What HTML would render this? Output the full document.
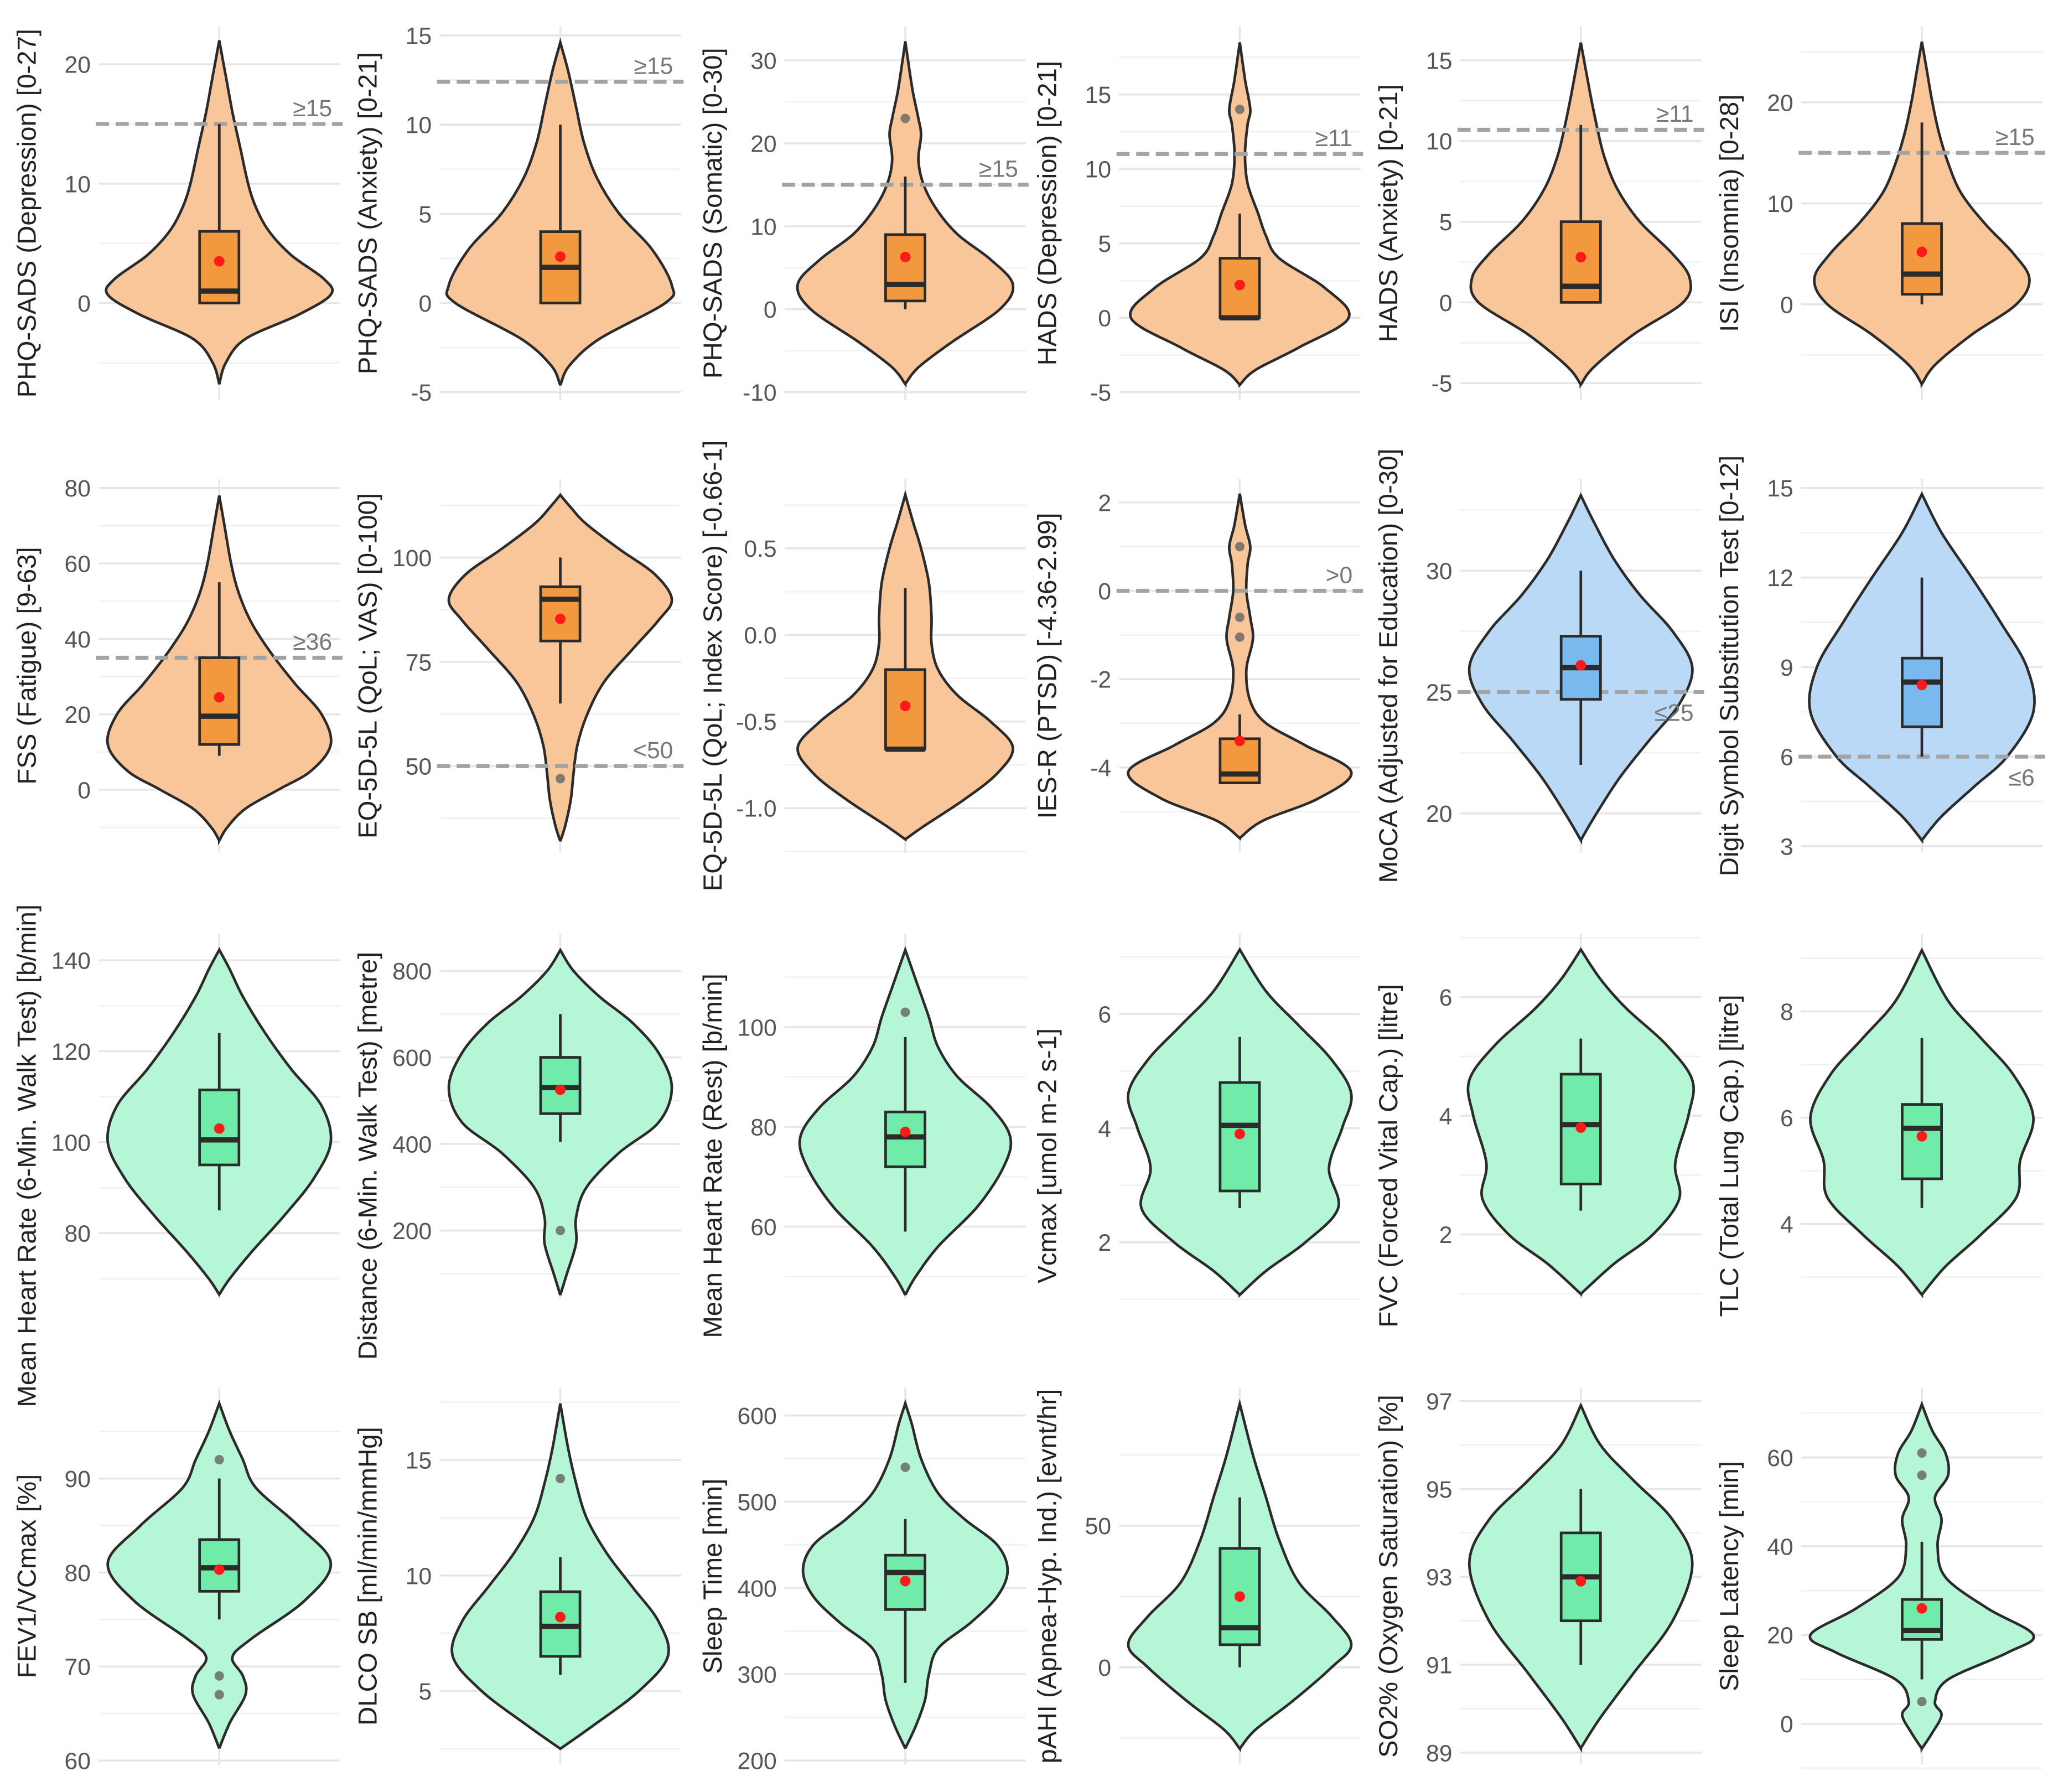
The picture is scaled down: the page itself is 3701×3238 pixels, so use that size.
<!DOCTYPE html>
<html><head><meta charset="utf-8">
<style>
html,body{margin:0;padding:0;background:#fff;}
svg{display:block;}
text{font-family:"Liberation Sans",sans-serif;}
</style></head>
<body>
<svg id="chart" width="3701" height="3238" viewBox="0 0 1561 1366" xmlns="http://www.w3.org/2000/svg"></svg>
<script>
// ---- data ----
const titles = [
"PHQ-SADS (Depression) [0-27]","PHQ-SADS (Anxiety) [0-21]","PHQ-SADS (Somatic) [0-30]","HADS (Depression) [0-21]","HADS (Anxiety) [0-21]","ISI (Insomnia) [0-28]",
"FSS (Fatigue) [9-63]","EQ-5D-5L (QoL; VAS) [0-100]","EQ-5D-5L (QoL; Index Score) [-0.66-1]","IES-R (PTSD) [-4.36-2.99]","MoCA (Adjusted for Education) [0-30]","Digit Symbol Substitution Test [0-12]",
"Mean Heart Rate (6-Min. Walk Test) [b/min]","Distance (6-Min. Walk Test) [metre]","Mean Heart Rate (Rest) [b/min]","Vcmax [umol m-2 s-1]","FVC (Forced Vital Cap.) [litre]","TLC (Total Lung Cap.) [litre]",
"FEV1/VCmax [%]","DLCO SB [ml/min/mmHg]","Sleep Time [min]","pAHI (Apnea-Hyp. Ind.) [evnt/hr]","SO2% (Oxygen Saturation) [%]","Sleep Latency [min]"];
const tickValues = [
[0,10,20],[-5,0,5,10,15],[-10,0,10,20,30],[-5,0,5,10,15],[-5,0,5,10,15],[0,10,20],
[0,20,40,60,80],[50,75,100],[-1.0,-0.5,0.0,0.5],[-4,-2,0,2],[20,25,30],[3,6,9,12,15],
[80,100,120,140],[200,400,600,800],[60,80,100],[2,4,6],[2,4,6],[4,6,8],
[60,70,80,90],[5,10,15],[200,300,400,500,600],[0,50],[89,91,93,95,97],[0,20,40,60]];
const tickLabels = [
["0","10","20"],["-5","0","5","10","15"],["-10","0","10","20","30"],["-5","0","5","10","15"],["-5","0","5","10","15"],["0","10","20"],
["0","20","40","60","80"],["50","75","100"],["-1.0","-0.5","0.0","0.5"],["-4","-2","0","2"],["20","25","30"],["3","6","9","12","15"],
["80","100","120","140"],["200","400","600","800"],["60","80","100"],["2","4","6"],["2","4","6"],["4","6","8"],
["60","70","80","90"],["5","10","15"],["200","300","400","500","600"],["0","50"],["89","91","93","95","97"],["0","20","40","60"]];
// density samples: [value, relative width 0..85]
const densities = [
[[-6.8,0],[-5,5],[-3,20],[-1,60],[0.7,85],[2,80],[4,55],[6,38],[8,28],[10,22],[13,16],[16,10],[19,5],[22,0]],
[[-4.6,0],[-3.5,7],[-2,30],[0,80],[1,85],[3,70],[5,45],[7,28],[9,18],[11,12],[13,6],[14.6,0]],
[[-9,0],[-7,10],[-4,35],[0,72],[3,82],[6,65],[9,40],[12,24],[15,14],[18,10],[21,12],[23,10],[26,6],[29,3],[32.3,0]],
[[-4.5,0],[-3.5,12],[-2,45],[0,83],[2,65],[4,30],[5.5,20],[7,14],[9,6],[11,4],[13,6],[14,8],[16,4],[18.5,0]],
[[-5.1,0],[-4,10],[-2,40],[0,78],[1.5,83],[3,70],[5,45],[7,28],[9,18],[11,12],[13,7],[16.1,0]],
[[-7.9,0],[-6,10],[-3,38],[0,72],[2.5,82],[5,70],[8,48],[11,30],[14,20],[17,13],[20,8],[23,4],[26,0]],
[[-13.5,0],[-10,6],[-5,20],[0,45],[5,70],[12,85],[20,78],[28,58],[36,40],[44,25],[52,15],[60,9],[70,4],[78,0]],
[[32,0],[36,4],[42,8],[48,10],[55,13],[62,20],[70,33],[78,55],[85,75],[90,85],[96,72],[102,45],[108,20],[112,8],[115,0]],
[[-1.18,0],[-1.1,15],[-0.95,45],[-0.8,70],[-0.65,82],[-0.5,65],[-0.35,40],[-0.2,25],[-0.05,20],[0.1,20],[0.3,18],[0.5,12],[0.65,6],[0.81,0]],
[[-5.6,0],[-5.2,18],[-4.7,60],[-4.1,85],[-3.5,50],[-3,20],[-2.5,8],[-1.8,5],[-1.1,10],[-0.6,8],[0,5],[0.6,6],[1,8],[1.5,4],[2.2,0]],
[[18.9,0],[20,12],[21.5,30],[23,52],[24.5,75],[26,85],[27.5,70],[29,45],[30.5,25],[32,10],[33.1,0]],
[[3.2,0],[4,15],[5,40],[6,65],[7.5,85],[9,80],[10.5,60],[12,38],[13.5,15],[14.8,0]],
[[66.5,0],[70,8],[76,25],[84,50],[92,72],[100,85],[108,78],[116,55],[124,35],[132,18],[138,8],[142.3,0]],
[[51,0],[100,5],[170,12],[230,12],[300,20],[380,45],[450,75],[530,85],[610,75],[680,55],[740,30],[800,10],[848,0]],
[[46.3,0],[50,8],[56,25],[64,55],[72,75],[78,80],[84,65],[90,40],[96,25],[102,18],[108,10],[115.5,0]],
[[1.08,0],[1.5,20],[2,50],[2.6,75],[3.3,68],[4,78],[4.6,85],[5.2,70],[5.8,45],[6.4,20],[7.13,0]],
[[1,0],[1.5,25],[2,55],[2.6,75],[3.2,72],[4,82],[4.6,85],[5.2,65],[5.8,35],[6.3,15],[6.8,0]],
[[2.67,0],[3.2,18],[3.8,45],[4.5,72],[5.2,75],[6,85],[6.8,70],[7.5,45],[8.2,20],[9.15,0]],
[[61.3,0],[64,8],[67,20],[69,18],[71,10],[73,25],[77,65],[81,85],[85,60],[89,28],[92,18],[95,8],[98,0]],
[[2.5,0],[3.5,25],[5,60],[6.5,82],[8,75],[9.5,55],[11,35],[12.5,20],[14,12],[15.5,6],[17.45,0]],
[[214,0],[240,8],[270,15],[300,18],[330,25],[360,50],[390,70],[420,78],[450,70],[480,45],[510,25],[550,12],[590,5],[614,0]],
[[-28.7,0],[-22,12],[-12,40],[0,70],[8,85],[18,70],[30,45],[45,30],[60,20],[75,10],[93,0]],
[[89.1,0],[89.8,15],[90.8,40],[92,70],[93.3,85],[94.3,70],[95.2,40],[96,15],[96.9,0]],
[[-5.6,0],[-2,8],[2,15],[5,10],[10,20],[16,65],[20,85],[26,50],[33,18],[40,12],[46,15],[51,10],[56,20],[61,18],[66,8],[72,0]]];
// box stats: [whiskerLow, q1, median, q3, whiskerHigh, mean]
const boxStats = [
[0,0,1,6,15,3.5],[0,0,2,4,10,2.6],[0,1,3,9,16,6.3],[0,0,0,4,7,2.2],[0,0,1,5,11,2.8],[0,1,3,8,18,5.2],
[9,12,19.5,35,55,24.5],[65,80,90,93,100,85.3],[-0.66,-0.66,-0.66,-0.2,0.27,-0.41],[-4.36,-4.35,-4.15,-3.35,-2.8,-3.4],[22,24.7,26,27.3,30,26.1],[6,7,8.5,9.3,12,8.4],
[85,95,100.5,111.5,124,103],[405,470,530,600,700,525],[59,72,78,83,98,79],[2.6,2.9,4.05,4.8,5.6,3.9],[2.4,2.85,3.85,4.7,5.3,3.8],[4.3,4.85,5.8,6.25,7.5,5.65],
[75,78,80.5,83.5,90,80.3],[5.7,6.5,7.8,9.3,10.8,8.2],[290,375,418,438,480,408],[0,8,14,42,60,25],[91,92,93,94,95,92.9],[10,19,21,28,41,26]];
const outliers = [
[],[],[23],[14],[],[],
[],[47],[],[1,-0.6,-1.05],[],[],
[],[200],[103],[],[],[],
[92,69,67],[14.2],[540],[],[],[61,56,5]];
const thresholds = [15,12.4,15,11,10.7,15, 35,50,null,0,25,6, null,null,null,null,null,null, null,null,null,null,null,null];
const thresholdLabels = ["≥15","≥15","≥15","≥11","≥11","≥15","≥36","<50","",">0","≤25","≤6","","","","","","","","","","","",""];
// axis calibration: two reference ticks [value, pixelY]
const axisRef = [
[[0,231],[20,49]],[[0,231],[15,27]],[[-10,299],[30,46]],[[-5,299],[15,72]],[[-5,292],[15,46]],[[0,232],[20,78]],
[[0,602],[80,372]],[[50,584],[100,425]],[[-1,616],[0.5,418]],[[-4,585],[2,383]],[[20,620],[30,435]],[[3,645],[15,372]],
[[80,940],[140,732]],[[200,938],[800,740]],[[60,935],[100,783]],[[2,947],[6,773]],[[2,941],[6,760]],[[4,933],[8,771]],
[[60,1342],[90,1127]],[[5,1289],[15,1113]],[[200,1342],[600,1079]],[[0,1271],[50,1163]],[[89,1336],[97,1068]],[[0,1314],[60,1111]]];
const palettes = {
 orange:{v:"#f8c699",b:"#f2983e"}, blue:{v:"#b9d9f6",b:"#7ab9ee"}, green:{v:"#b5f6d6",b:"#70eba9"}};
const panelColor = ["orange","orange","orange","orange","orange","orange","orange","orange","orange","orange","blue","blue",
"green","green","green","green","green","green","green","green","green","green","green","green"];

// ---- drawing ----
const NS="http://www.w3.org/2000/svg";
const svg=document.getElementById('chart');
function el(tag,attrs,parent){const e=document.createElementNS(NS,tag);for(const k in attrs)e.setAttribute(k,attrs[k]);(parent||svg).appendChild(e);return e;}
const centers=[167,427,690,945,1205,1465];
const rowTop=[20,365,712,1058], rowBot=[305,650,990,1345];
const thrBelow=[10,11];

for(let i=0;i<24;i++){
  const r=Math.floor(i/6), c=i%6, cx=centers[c];
  const [a,b]=axisRef[i];
  const y=v=>a[1]+(v-a[0])*(b[1]-a[1])/(b[0]-a[0]);
  const g=el('g',{});
  
  
  const L=cx-92,R=cx+92;
  const tv=tickValues[i];
  const step=tv[1]-tv[0];
  for(let k=-1;k<tv.length;k++){
    const mv=tv[0]+(k+0.5)*step; const my=y(mv);
    if(my>rowTop[r]-4&&my<rowBot[r]+4){const gl=el('line',{x1:L,x2:R,y1:my,y2:my,stroke:'#f2f2f2','stroke-width':1.2},g);}
  }
  tv.forEach((v,k)=>{
    const ty=y(v);
    const gl=el('line',{x1:L,x2:R,y1:ty,y2:ty,stroke:'#e6e6e6','stroke-width':1.5},g);
    
    const t=el('text',{x:cx-98,y:ty+6.5,'text-anchor':'end','font-size':18,fill:'#555'},g);
    t.textContent=tickLabels[i][k];
    
  });
  const vg=el('line',{x1:cx,x2:cx,y1:rowTop[r],y2:rowBot[r],stroke:'#e6e6e6','stroke-width':1.5},g);
  
  const midY=(rowTop[r]+rowBot[r])/2+ (r==2?30:0);
  const tx=cx-140;
  const tt=el('text',{x:tx,y:midY,'text-anchor':'middle','font-size':20,fill:'#222',transform:`rotate(-90 ${tx} ${midY})`},g);
  tt.textContent=titles[i];
  
  const d=densities[i];
  const pts=d.map(p=>[cx+p[1],y(p[0])]);
  function cr(ps){let s='';for(let k=0;k<ps.length-1;k++){const p0=ps[Math.max(k-1,0)],p1=ps[k],p2=ps[k+1],p3=ps[Math.min(k+2,ps.length-1)];
    const c1=[p1[0]+(p2[0]-p0[0])/6,p1[1]+(p2[1]-p0[1])/6],c2=[p2[0]-(p3[0]-p1[0])/6,p2[1]-(p3[1]-p1[1])/6];
    s+=` C${c1[0].toFixed(1)},${c1[1].toFixed(1)} ${c2[0].toFixed(1)},${c2[1].toFixed(1)} ${p2[0].toFixed(1)},${p2[1].toFixed(1)}`;}return s;}
  const left=pts.map(p=>[2*cx-p[0],p[1]]).reverse();
  const path=`M${pts[0][0]},${pts[0][1]}`+cr(pts)+cr(left)+'Z';
  const pal=palettes[panelColor[i]];
  const vp=el('path',{d:path,fill:pal.v,stroke:'#2b2b2b','stroke-width':2},g);
  
  if(thresholds[i]!==null){
    const thy=y(thresholds[i]);
    const tl=el('line',{x1:L-2,x2:R+2,y1:thy,y2:thy,stroke:'#a3a3a3','stroke-width':3,'stroke-dasharray':'10,5'},g);
    
    const below=thrBelow.includes(i);
    const lt=el('text',{x:R-6,y:below?thy+22:thy-6,'text-anchor':'end','font-size':18,fill:'#777'},g);
    lt.textContent=thresholdLabels[i];
    
  }
  const s=boxStats[i];
  const wl=el('line',{x1:cx,x2:cx,y1:y(s[0]),y2:y(s[4]),stroke:'#2b2b2b','stroke-width':2},g);
  
  const bx=el('rect',{x:cx-15,width:30,y:y(s[3]),height:Math.max(1,y(s[1])-y(s[3])),fill:pal.b,stroke:'#2b2b2b','stroke-width':2},g);
  
  const md=el('line',{x1:cx-15,x2:cx+15,y1:y(s[2]),y2:y(s[2]),stroke:'#2b2b2b','stroke-width':4},g);
  
  outliers[i].forEach(o=>{
    const oc=el('circle',{cx:cx,cy:y(o),r:3.6,fill:'#6b6b6b','fill-opacity':0.85},g);
    
  });
  const mn=el('circle',{cx:cx,cy:y(s[5]),r:4,fill:'#ff1a1a'},g);
  
}
</script>
</body></html>
